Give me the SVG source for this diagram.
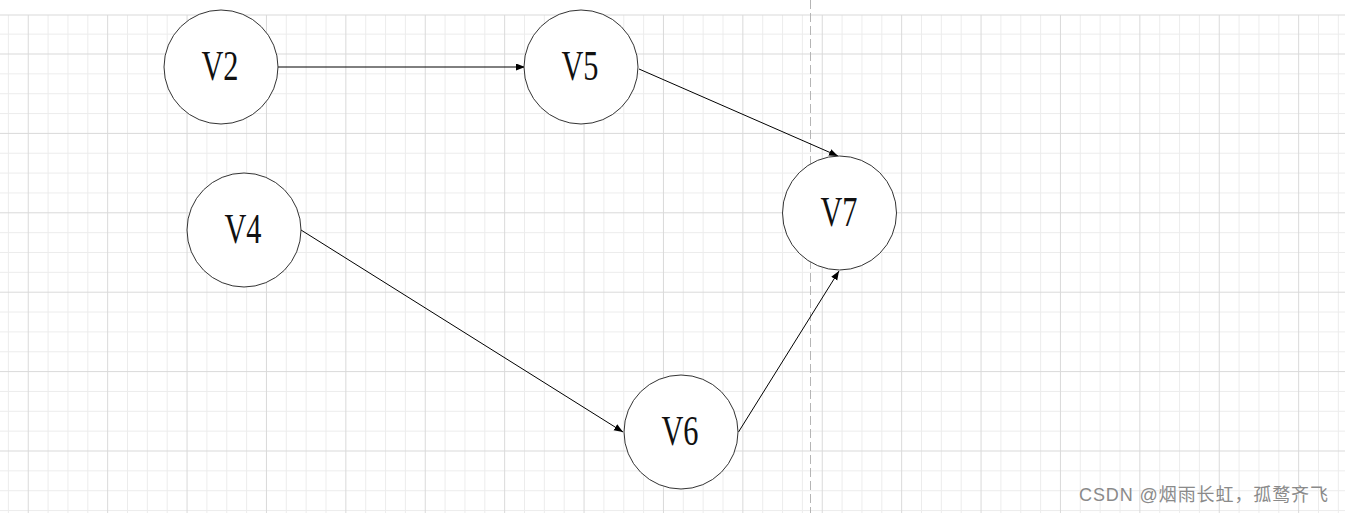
<svg xmlns="http://www.w3.org/2000/svg" width="1345" height="513" viewBox="0 0 1345 513">
<defs>
<pattern id="grid" patternUnits="userSpaceOnUse" x="27.75" y="53.5" width="79.4" height="79.4">
<path d="M20.35 0V79.4M40.2 0V79.4M60.05 0V79.4M0 20.35H79.4M0 40.2H79.4M0 60.05H79.4" stroke="#ececec" stroke-width="1" fill="none"/>
<path d="M0.5 0V79.4M0 0.5H79.4" stroke="#d9d9d9" stroke-width="1" fill="none"/>
</pattern>
<marker id="arrow" markerUnits="userSpaceOnUse" markerWidth="10" markerHeight="8" refX="9" refY="3.5" orient="auto">
<path d="M0 0L9 3.5L0 7z" fill="#000"/>
</marker>
<style>
.node circle{fill:#fff;stroke:#333;stroke-width:1}
.node text{font-family:"Liberation Serif","DejaVu Serif",serif;font-size:41px;fill:#111;text-anchor:middle}
.edge{stroke:#000;stroke-width:1;fill:none;marker-end:url(#arrow)}
</style>
</defs>
<rect x="0" y="0" width="1345" height="513" fill="#fff"/>
<rect x="0" y="15" width="1345" height="498" fill="url(#grid)"/>
<line x1="0" y1="15" x2="1345" y2="15" stroke="#d9d9d9" stroke-width="1"/>
<line x1="810.5" y1="0" x2="810.5" y2="513" stroke="#b5b5b5" stroke-width="1" stroke-dasharray="9 4"/>
<g id="connectors">
<line class="edge" x1="278" y1="67" x2="525" y2="67"/>
<line class="edge" x1="639" y1="69" x2="838" y2="156"/>
<line class="edge" x1="301" y1="230" x2="623" y2="432"/>
<line class="edge" x1="738.5" y1="432" x2="839" y2="271"/>
</g>
<g id="V2" class="node"><circle cx="221" cy="67" r="57"/><text transform="translate(220 80) scale(0.74 1.04)">V2</text></g>
<g id="V5" class="node"><circle cx="581" cy="67" r="57"/><text transform="translate(580 80) scale(0.74 1.04)">V5</text></g>
<g id="V4" class="node"><circle cx="244" cy="230" r="57"/><text transform="translate(243 243) scale(0.74 1.04)">V4</text></g>
<g id="V7" class="node"><circle cx="839.5" cy="213" r="57"/><text transform="translate(839 226) scale(0.74 1.04)">V7</text></g>
<g id="V6" class="node"><circle cx="681" cy="432" r="57"/><text transform="translate(680 445) scale(0.74 1.04)">V6</text></g>
<text x="1079" y="501" textLength="249" lengthAdjust="spacing" font-family="'Liberation Sans','Noto Sans CJK SC',sans-serif" font-size="18" fill="#8a8a8a">CSDN @烟雨长虹，孤鹜齐飞</text>
</svg>
